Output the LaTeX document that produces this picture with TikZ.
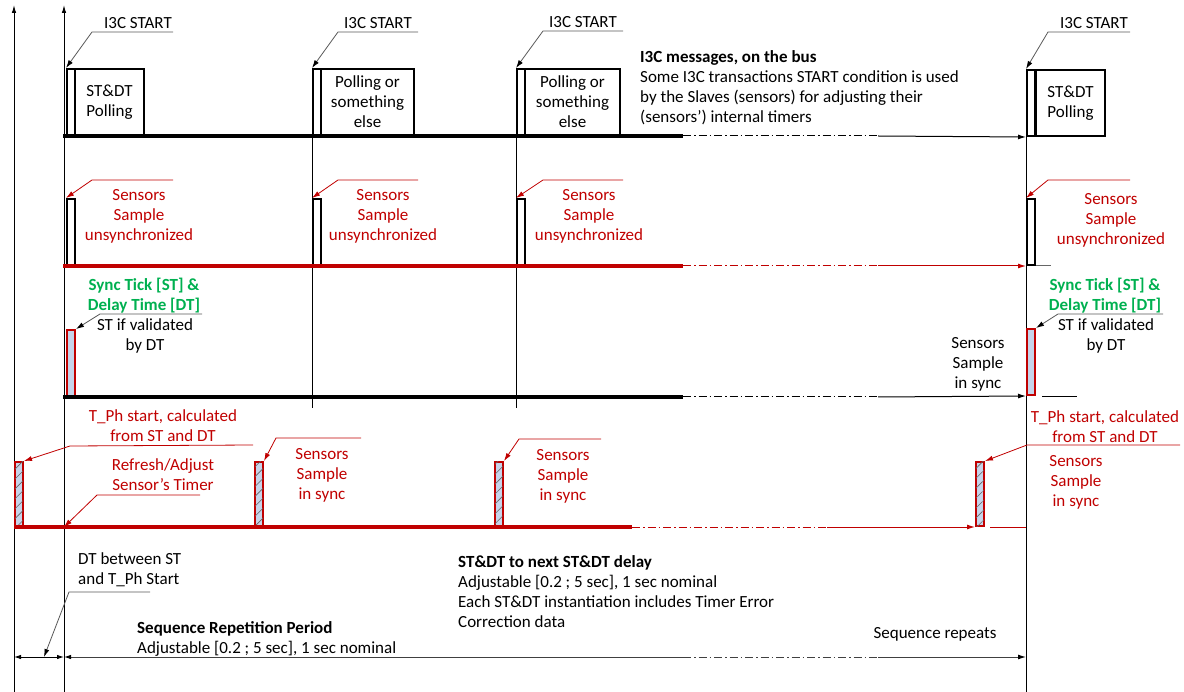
\documentclass[tikz,border=0pt]{standalone}
\usepackage{fontspec}
\setmainfont{Carlito}
\usepackage{xcolor}
\usepackage{tikz}
\usetikzlibrary{arrows.meta, positioning, calc, patterns.meta}
\definecolor{SigRed}{HTML}{C00000}
\definecolor{TickGreen}{HTML}{00B050}
\definecolor{TickBlue}{HTML}{C6D4EA}
\newcommand{\lblfont}{\fontsize{17}{20}\selectfont}
\tikzset{
  bus line/.style={line width=3.2pt},
  thin line/.style={line width=1pt},
  dash dot/.style={line width=1pt, dash pattern=on 8pt off 3pt on 1.5pt off 3pt},
  time arrow/.style={line width=1pt, -{Latex[length=8pt, width=5pt]}},
  axis arrow/.style={line width=1pt, -{Latex[length=8pt, width=4.5pt]}},
  pulse box/.style={draw, line width=2pt, inner sep=0pt, minimum width=8pt,
                    minimum height=66pt, anchor=south west},
  msg box/.style={pulse box, align=center, font=\lblfont},
  tick box/.style={pulse box, draw=SigRed, fill=TickBlue},
  tph box/.style={tick box, minimum height=64pt,
                  postaction={pattern={Lines[angle=45, distance=7pt, line width=0.6pt]},
                              pattern color=black!60}},
  lead/.style={line width=0.8pt, draw=black!65, -{Latex[length=8pt, width=5pt, black]}},
  red lead/.style={line width=0.8pt, draw=SigRed, -{Latex[length=8pt, width=5pt, SigRed]}},
  lbl/.style={font=\lblfont, align=center, inner sep=0pt},
  red lbl/.style={lbl, text=SigRed},
  green lbl/.style={lbl, text=TickGreen, font=\lblfont\bfseries},
  note/.style={lbl, align=left, anchor=west},
}

\begin{document}
\begin{tikzpicture}[x=1pt, y=-1pt]
  \useasboundingbox (0,0) rectangle (1184,692);

  % time axes and markers
  \coordinate (axA) at (14,692);
  \coordinate (axAt) at (14,5);
  \coordinate (axB) at (64,692);
  \coordinate (axBt) at (64,5);
  \draw[axis arrow] (axA) -- (axAt);
  \draw[axis arrow] (axB) -- (axBt);

  % I3C bus
  \node[pulse box] (p1) at (66,136) {};
  \node[msg box, minimum width=69pt] (m1) at (74,136) {ST\&DT\\Polling};
  \node[pulse box] (p2) at (312,136) {};
  \node[msg box, minimum width=93pt] (m2) at (320,136) {Polling or\\something\\else};
  \node[pulse box] (p3) at (516,136) {};
  \node[msg box, minimum width=95pt] (m3) at (524,136) {Polling or\\something\\else};
  \node[pulse box] (p4) at (1026,137) {};
  \node[msg box, minimum width=69pt] (m4) at (1035,137) {ST\&DT\\Polling};
  \coordinate (r1a) at (63,136);
  \coordinate (r1b) at (683,136);
  \coordinate (r1c) at (878,136);
  \draw[bus line] (r1a) -- (r1b);
  \draw[dash dot] (r1b) -- (r1c);
  \draw[time arrow] (r1c) -- (p4.south west);

  \coordinate (v1) at (312,408);
  \coordinate (v2) at (516,408);
  \coordinate (v3) at (1026,692);
  \draw[thin line] (p2.north west) -- (v1);
  \draw[thin line] (p3.north west) -- (v2);
  \draw[thin line] (p4.north west) -- (v3);

  \node[lbl] (i1) at (138,23) {I3C START};
  \node[lbl] (i2) at (378,23) {I3C START};
  \node[lbl] (i3) at (583,22) {I3C START};
  \node[lbl] (i4) at (1094,23) {I3C START};
  \draw[lead] (173,32) -- (92,32) -- (p1.north west);
  \draw[lead] (418,32) -- (338,32) -- (p2.north west);
  \draw[lead] (623,31) -- (543,31) -- (p3.north west);
  \draw[lead] (1130,32) -- (1048,32) -- (p4.north west);

  \node[note] (bus) at (640,88) {{\bfseries I3C messages, on the bus}\\
    Some I3C transactions START condition is used\\
    by the Slaves (sensors) for adjusting their\\
    (sensors’) internal timers};

  % sensors, unsynchronized
  \node[pulse box] (q1) at (66,266) {};
  \node[pulse box] (q2) at (312,266) {};
  \node[pulse box] (q3) at (516,266) {};
  \node[pulse box] (q4) at (1026,266) {};
  \coordinate (r2a) at (63,266);
  \coordinate (r2b) at (683,266);
  \coordinate (r2c) at (878,266);
  \coordinate (r2d) at (1051,266);
  \draw[bus line, SigRed] (r2a) -- (r2b);
  \draw[dash dot, SigRed] (r2b) -- (r2c);
  \draw[time arrow, SigRed] (r2c) -- (q4.south west);
  \draw[thin line, black!60] (q4.south east) -- (r2d);

  \node[red lbl] (u1) at (139,216) {Sensors\\Sample\\unsynchronized};
  \node[red lbl] (u2) at (383,216) {Sensors\\Sample\\unsynchronized};
  \node[red lbl] (u3) at (589,216) {Sensors\\Sample\\unsynchronized};
  \node[red lbl] (u4) at (1111,220) {Sensors\\Sample\\unsynchronized};
  \draw[red lead] (173,180) -- (92,180) -- (q1.north west);
  \draw[red lead] (418,180) -- (338,180) -- (q2.north west);
  \draw[red lead] (623,180) -- (543,180) -- (q3.north west);
  \draw[red lead] (1130,180) -- (1048,180) -- (q4.north west);

  % sync tick and delay time
  \node[tick box] (k1) at (66,397) {};
  \node[tick box] (k2) at (1026,396) {};
  \coordinate (r3a) at (63,397);
  \coordinate (r3b) at (683,397);
  \coordinate (r3c) at (878,397);
  \coordinate (r3d) at (1042,397);
  \coordinate (r3e) at (1077,397);
  \draw[bus line] (r3a) -- (r3b);
  \draw[dash dot] (r3b) -- (r3c);
  \draw[time arrow] (r3c) -- (k2.south west);
  \draw[thin line] (r3d) -- (r3e);

  \node[green lbl] (g1) at (144,296) {Sync Tick [ST] \&\\Delay Time [DT]};
  \node[green lbl] (g2) at (1105,296) {Sync Tick [ST] \&\\Delay Time [DT]};
  \node[lbl] (w1) at (145,336) {ST if validated\\by DT};
  \node[lbl] (w2) at (1106,336) {ST if validated\\by DT};
  \draw[lead] (202,314) -- (100,314) -- (k1.north east);
  \draw[lead] (1163,314) -- (1058,314) -- (k2.north east);
  \node[lbl] (s0) at (978,364) {Sensors\\Sample\\in sync};

  % T_Ph, sensors in sync
  \node[tph box] (h1) at (14,527) {};
  \node[tph box] (h2) at (254,527) {};
  \node[tph box] (h3) at (494,527) {};
  \node[tph box] (h4) at (975,527) {};
  \coordinate (r4a) at (14,527);
  \coordinate (r4b) at (632,527);
  \coordinate (r4c) at (827,527);
  \coordinate (r4d) at (990,527);
  \coordinate (r4e) at (1026,527);
  \draw[bus line, SigRed] (r4a) -- (r4b);
  \draw[dash dot, SigRed] (r4b) -- (r4c);
  \draw[time arrow, SigRed] (r4c) -- (h4.south west);
  \draw[thin line, SigRed] (r4d) -- (r4e);

  \node[red lbl] (t1) at (163,426) {T\_Ph start, calculated\\from ST and DT};
  \node[red lbl] (t2) at (1105,427) {T\_Ph start, calculated\\from ST and DT};
  \node[red lbl] (a1) at (163,475) {Refresh/Adjust\\Sensor’s Timer};
  \node[red lbl] (y1) at (322,475) {Sensors\\Sample\\in sync};
  \node[red lbl] (y2) at (563,476) {Sensors\\Sample\\in sync};
  \node[red lbl] (y3) at (1076,482) {Sensors\\Sample\\in sync};
  \draw[red lead] (253,445) -- (70,446) -- (h1.north east);
  \draw[red lead] (1180,445) -- (1027,445) -- (h4.north east);
  \draw[red lead] (200,495) -- (97,495) -- (r4a -| axB);
  \draw[red lead] (361,438) -- (276,438) -- (h2.north east);
  \draw[red lead] (601,439) -- (519,439) -- (h3.north east);

  % repetition period
  \coordinate (d0) at (14,657);
  \coordinate (d1) at (64,657);
  \coordinate (d2) at (683,657);
  \coordinate (d3) at (878,657);
  \coordinate (d4) at (1026,657);
  \draw[line width=0.9pt, {Latex[length=7pt, width=4.5pt]}-{Latex[length=7pt, width=4.5pt]}] (d0) -- (d1);
  \draw[line width=0.9pt, black!75, {Latex[length=7pt, width=4.5pt, black]}-] (d1) -- (d2);
  \draw[dash dot, black!75] (d2) -- (d3);
  \draw[line width=1pt, black!75, -{Latex[length=8pt, width=5pt, black]}] (d3) -- (d4);

  \node[note] (dt) at (78,570) {DT between ST\\and T\_Ph Start};
  \draw[lead] (150,592) -- (69,592) -- ($(d0)!0.6!(d1)$);
  \node[note] (rep) at (137,639) {{\bfseries Sequence Repetition Period}\\
    Adjustable [0.2 ; 5 sec], 1 sec nominal};
  \node[note] (nxt) at (458,592) {{\bfseries ST\&DT to next ST\&DT delay}\\
    Adjustable [0.2 ; 5 sec], 1 sec nominal\\
    Each ST\&DT instantiation includes Timer Error\\
    Correction data};
  \node[lbl] (rp) at (935,634) {Sequence repeats};
\end{tikzpicture}
\end{document}
